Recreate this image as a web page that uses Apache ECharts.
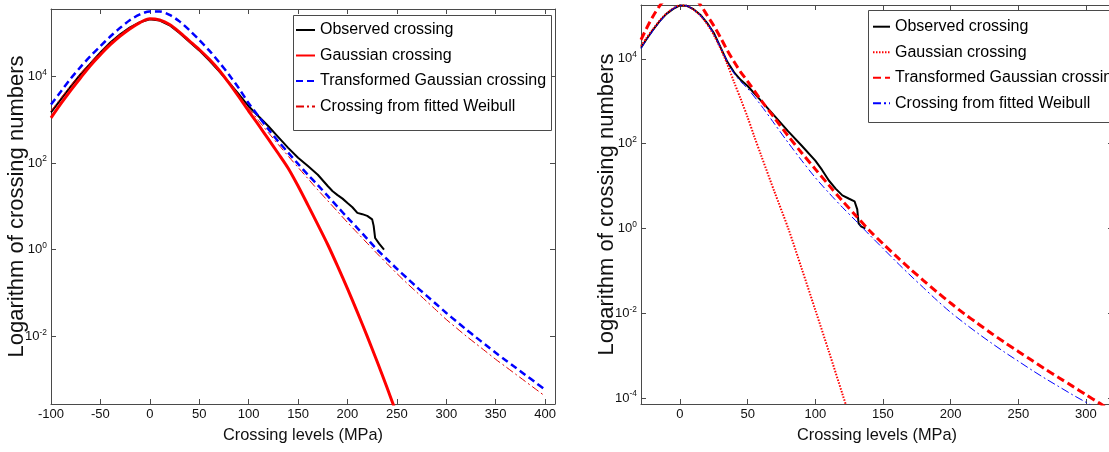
<!DOCTYPE html>
<html><head><meta charset="utf-8">
<script src="https://cdn.jsdelivr.net/npm/echarts@6/dist/echarts.min.js"></script>
<style>
html,body{margin:0;padding:0;background:#fff;width:1109px;height:452px;overflow:hidden}
#l{position:absolute;left:0;top:0;width:560px;height:452px}
#r{position:absolute;left:560px;top:0;width:549px;height:452px}
</style></head><body><div id="l"></div><div id="r"></div>
<script>
// ---------------- LEFT PANEL DATA ----------------
const leftXTicks = [-100,-50,0,50,100,150,200,250,300,350,400];
const leftLevels = [-100,-90,-80,-70,-60,-50,-40,-30,-20,-10,0,10,20,30,40,50,60,70,80,90,100,110,120,130,140,150,160,170,180,190,200,210,220,230,240,250,260,270,280,290,300,310,320,330,340,350,360,370,380,390,400];
const leftObsLevels = [-100,-90,-80,-70,-60,-50,-40,-30,-20,-10,0,10,20,30,40,50,60,70,80,90,100,110,120,130,140,150,160,170,180,185,190,195,200,205,210,215,220,225,226.5,228,232,237];
const leftObserved = [1.48e3,2.95e3,5.89e3,1.12e4,2.00e4,3.55e4,6.03e4,9.33e4,1.35e5,1.78e5,2.09e5,1.95e5,1.51e5,1.00e5,6.31e4,3.98e4,2.34e4,1.32e4,7.24e3,3.89e3,2.04e3,1.20e3,7.08e2,3.98e2,2.24e2,1.32e2,8.51e1,5.37e1,2.95e1,2.24e1,1.82e1,1.51e1,1.20e1,9.55,7.08,6.61,6.03,5.01,3.55,1.86,1.38,1.00];
const leftGaussian = [1.10e3,2.34e3,4.79e3,9.33e3,1.78e4,3.16e4,5.37e4,8.51e4,1.26e5,1.74e5,2.14e5,2.00e5,1.58e5,1.05e5,6.61e4,4.17e4,2.51e4,1.41e4,7.08e3,3.39e3,1.58e3,7.59e2,3.55e2,1.66e2,7.59e1,2.95e1,1.07e1,3.80,1.32,4.17e-1,1.26e-1,3.63e-2,1.00e-2,2.63e-3,6.61e-4,1.58e-4];
const leftTransformed = [2.24e3,4.47e3,8.91e3,1.66e4,2.95e4,5.01e4,8.32e4,1.32e5,2.00e5,2.69e5,3.16e5,3.16e5,2.63e5,1.86e5,1.17e5,6.92e4,3.98e4,2.14e4,1.10e4,5.37e3,2.40e3,1.20e3,6.03e2,3.16e2,1.74e2,9.55e1,5.37e1,3.09e1,1.74e1,9.77,5.50,3.16,1.78,1.00,6.03e-1,3.63e-1,2.24e-1,1.38e-1,8.71e-2,5.50e-2,3.47e-2,2.24e-2,1.45e-2,9.55e-3,6.31e-3,4.17e-3,2.82e-3,1.91e-3,1.29e-3,8.71e-4,5.89e-4];
const leftWeibull = [1.58e3,3.16e3,6.17e3,1.17e4,2.09e4,3.63e4,6.03e4,9.33e4,1.35e5,1.78e5,2.09e5,2.00e5,1.55e5,1.02e5,6.46e4,3.98e4,2.34e4,1.29e4,6.92e3,3.63e3,1.86e3,9.55e2,5.01e2,2.69e2,1.45e2,7.94e1,4.37e1,2.40e1,1.35e1,7.59,4.27,2.45,1.41,8.13e-1,4.79e-1,2.82e-1,1.70e-1,1.05e-1,6.46e-2,3.98e-2,2.45e-2,1.58e-2,1.02e-2,6.76e-3,4.47e-3,2.95e-3,2.00e-3,1.35e-3,9.12e-4,6.17e-4,4.17e-4];

// ---------------- RIGHT PANEL DATA ----------------
const rightXTicks = [0,50,100,150,200,250,300];
const rightObsLevels = [-28.8,-25,-20,-15,-10,-5,0,5,10,15,20,25,30,35,40,45,50,60,70,80,90,100,105,110,115,120,125,129,131,132,134,137];
const rightObserved = [1.82e4,2.82e4,4.79e4,7.76e4,1.15e5,1.51e5,1.82e5,1.78e5,1.48e5,1.10e5,7.08e4,4.07e4,1.86e4,8.51e3,4.79e3,3.16e3,2.29e3,1.02e3,4.47e2,1.95e2,8.91e1,3.98e1,2.40e1,1.35e1,8.71,6.03,5.01,4.37,2.82,1.32,1.10,1.00];
const rightGaussLevels = [-28.8,-25,-20,-15,-10,-5,0,5,10,15,20,25,30,35,40,45,50,55,60,70,80,90,100,110,120,125,130];
const rightGaussian = [2.00e4,3.02e4,5.01e4,7.94e4,1.17e5,1.55e5,1.82e5,1.78e5,1.45e5,1.05e5,6.61e4,3.63e4,1.74e4,7.41e3,2.82e3,1.10e3,4.17e2,1.45e2,5.25e1,7.08,1.00,1.12e-1,1.20e-2,1.26e-3,1.26e-4,3.98e-5,1.26e-5];
const rightLevels = [-28.8,-25,-20,-15,-10,-5,0,5,10,15,20,25,30,35,40,45,50,60,70,80,90,100,110,120,130,140,150,160,170,180,190,200,210,220,230,240,250,260,270,280,290,300,310,320];
const rightTransformed = [2.82e4,5.01e4,1.00e5,1.78e5,2.75e5,3.63e5,3.98e5,3.80e5,2.95e5,1.91e5,1.07e5,6.03e4,3.16e4,1.58e4,8.51e3,4.79e3,2.95e3,1.05e3,3.98e2,1.51e2,6.03e1,2.51e1,1.05e1,4.47,2.00,8.91e-1,4.37e-1,2.19e-1,1.12e-1,5.89e-2,3.16e-2,1.74e-2,9.77e-3,5.75e-3,3.39e-3,2.04e-3,1.26e-3,7.76e-4,4.79e-4,3.02e-4,1.91e-4,1.20e-4,7.59e-5,4.79e-5];
const rightWeibull = [1.74e4,2.69e4,4.57e4,7.41e4,1.12e5,1.51e5,1.82e5,1.78e5,1.45e5,1.07e5,6.92e4,3.89e4,1.86e4,8.71e3,4.57e3,2.88e3,2.00e3,7.94e2,2.88e2,1.05e2,3.98e1,1.58e1,6.92,3.16,1.51,7.08e-1,3.39e-1,1.62e-1,7.94e-2,3.98e-2,2.00e-2,1.05e-2,5.89e-3,3.39e-3,2.00e-3,1.20e-3,7.41e-4,4.57e-4,2.88e-4,1.86e-4,1.20e-4,7.94e-5,5.25e-5,3.47e-5];

const seriesNames = ['Observed crossing','Gaussian crossing','Transformed Gaussian crossing','Crossing from fitted Weibull'];
const xTitle = 'Crossing levels (MPa)';
const yTitle = 'Logarithm of crossing numbers';

// ---------------- fonts ----------------
function hasFont(f){
  const c=document.createElement('canvas').getContext('2d');
  const s='abcdefghijklmnopqrstuvwxyz0123456789ABCDEFG';
  c.font='40px monospace'; const a=c.measureText(s).width;
  c.font="40px '"+f+"', monospace"; return Math.abs(c.measureText(s).width-a)>0.5;
}
const NARROW = hasFont('Liberation Sans Narrow');
const FN = NARROW ? "'Liberation Sans Narrow', 'Liberation Sans', sans-serif" : "'Liberation Sans', Arial, sans-serif";
const K = NARROW ? 1 : 0.84;
const LEGFS = NARROW ? 19.5 : 16;
const FW = "'Liberation Sans', Arial, sans-serif";
const AX = '#4a4a4a';
const TXT = '#111';

function pairs(xs, ys){ return ys.map((v,i)=>[xs[i], v]); }

function yLabel(v){
  const e = Math.log10(v), r = Math.round(e);
  if (Math.abs(e - r) > 0.02) return '';
  return '{b|10}{s|' + r + '}';
}

function build(c){
  const axLine = {show:true, onZero:false, lineStyle:{color:AX, width:1}};
  const tick = {show:true, inside:true, length:5, lineStyle:{color:AX, width:1}};
  return {
    animation:false,
    backgroundColor:'#fff',
    grid:{left:c.gl, top:c.gt, width:c.gw, height:c.gh, containLabel:false, outerBoundsMode:'none'},
    xAxis:[
      {type:'value', min:c.xmin, max:c.xmax, position:'bottom',
       axisLine:axLine, axisTick:Object.assign({customValues:c.xTicks}, tick),
       axisLabel:{customValues:c.xTicks, fontFamily:FN, fontSize:15.5*K, color:TXT, margin:4},
       splitLine:{show:false},
       name:xTitle, nameLocation:'middle', nameGap:23, nameMoveOverlap:false,
       nameTextStyle:{fontFamily:FN, fontSize:19.5*K, color:TXT}},
      {type:'value', min:c.xmin, max:c.xmax, position:'top',
       axisLine:axLine, axisTick:Object.assign({customValues:c.xTicks}, tick),
       axisLabel:{show:false}, splitLine:{show:false}}
    ],
    yAxis:[
      {type:'log', logBase:100, min:c.ymin, max:c.ymax, position:'left',
       axisLine:axLine, axisTick:tick, minorTick:{show:false}, splitLine:{show:false},
       axisLabel:{formatter:yLabel, margin:4, color:TXT,
         rich:{b:{fontFamily:FN, fontSize:15.5*K, color:TXT, lineHeight:16},
               s:{fontFamily:FN, fontSize:10*K, color:TXT, verticalAlign:'top', lineHeight:10}}},
       name:yTitle, nameLocation:'middle', nameGap:c.yNameGap, nameMoveOverlap:false,
       nameTextStyle:{fontFamily:FW, fontSize:22, color:TXT}},
      {type:'log', logBase:100, min:c.ymin, max:c.ymax, position:'right',
       axisLine:axLine, axisTick:tick, minorTick:{show:false}, splitLine:{show:false},
       axisLabel:{show:false}}
    ],
    graphic:[{type:'rect', z:50, shape:c.box, style:{fill:'#fff', stroke:AX, lineWidth:1}}],
    legend:{
      orient:'vertical', left:c.legLeft, top:c.legTop, padding:0, z:60,
      itemWidth:c.legIconW, itemHeight:14, itemGap:25.5 - LEGFS,
      selectedMode:false, data:seriesNames,
      itemStyle:{opacity:0},
      textStyle:{fontFamily:FN, fontSize:LEGFS, color:'#000'}
    },
    series:c.series.map(s=>Object.assign({
      type:'line', symbol:'none', showSymbol:false, smooth:0.3, clip:true,
      emphasis:{disabled:true}, silent:true
    }, s))
  };
}

const left = echarts.init(document.getElementById('l'), null, {renderer:'canvas'});
left.setOption(build({
  gl:51, gt:9, gw:504, gh:395,
  xmin:-100, xmax:410, xTicks:leftXTicks,
  ymin:2.75e-4, ymax:3.59e5, yNameGap:23,
  box:{x:293.5, y:15.5, width:258, height:115},
  legLeft:295, legTop:30 - LEGFS/2, legIconW:19,
  series:[
    {name:seriesNames[0], data:pairs(leftObsLevels,leftObserved), smooth:false, lineStyle:{color:'#000', width:2}, itemStyle:{color:'#000'}},
    {name:seriesNames[1], data:pairs(leftLevels,leftGaussian), lineStyle:{color:'#ff0000', width:3}, itemStyle:{color:'#ff0000'}},
    {name:seriesNames[2], data:pairs(leftLevels,leftTransformed), lineStyle:{color:'#0000ff', width:2.5, type:[7,4]}, itemStyle:{color:'#0000ff'}},
    {name:seriesNames[3], data:pairs(leftLevels,leftWeibull), lineStyle:{color:'#e00000', width:1, type:[8,3,2,3]}, itemStyle:{color:'#e00000'}}
  ]
}));

const right = echarts.init(document.getElementById('r'), null, {renderer:'canvas'});
right.setOption(build({
  gl:81, gt:5, gw:472, gh:399,
  xmin:-28.8, xmax:320, xTicks:rightXTicks,
  ymin:7.24e-5, ymax:1.86e5, yNameGap:23,
  box:{x:308.5, y:10.5, width:260, height:112},
  legLeft:312, legTop:26.7 - LEGFS/2, legIconW:17,
  series:[
    {name:seriesNames[0], data:pairs(rightObsLevels,rightObserved), smooth:false, lineStyle:{color:'#000', width:2}, itemStyle:{color:'#000'}},
    {name:seriesNames[1], data:pairs(rightGaussLevels,rightGaussian), lineStyle:{color:'#ff0000', width:2, type:[1.5,1.5]}, itemStyle:{color:'#ff0000'}},
    {name:seriesNames[2], data:pairs(rightLevels,rightTransformed), lineStyle:{color:'#ff0000', width:3, type:[8,4]}, itemStyle:{color:'#ff0000'}},
    {name:seriesNames[3], data:pairs(rightLevels,rightWeibull), lineStyle:{color:'#0000ff', width:1, type:[8,3,2,3]}, itemStyle:{color:'#0000ff'}}
  ]
}));
</script></body></html>
